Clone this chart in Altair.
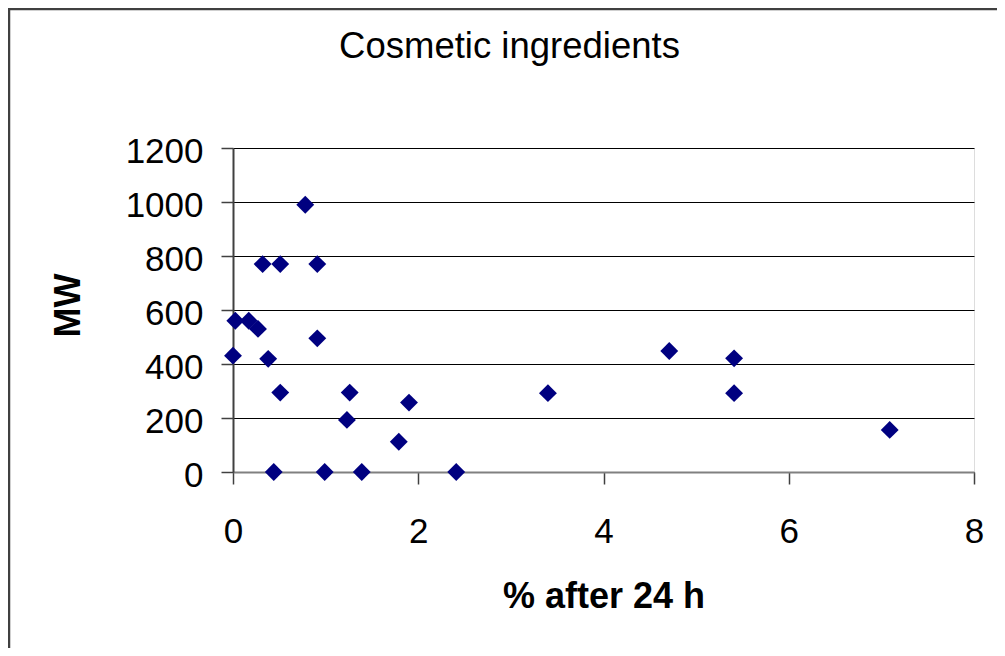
import altair as alt
import pandas as pd

pct_after_24h = [0.78, 0.32, 0.51, 0.91, 0.025, 0.17, 0.27, 0.91, 0.0, 0.38,
                 0.51, 1.26, 1.23, 1.90, 1.79, 0.44, 0.99, 1.39, 2.41,
                 3.40, 4.71, 5.41, 5.41, 7.09]
mw = [990, 770, 770, 770, 560, 560, 530, 495, 431, 419,
      294, 294, 193, 257, 112, 0, 0, 0, 0,
      292, 448, 421, 292, 156]

x_ticks = [0, 2, 4, 6, 8]
y_ticks = [0, 200, 400, 600, 800, 1000, 1200]

df = pd.DataFrame({"pct": pct_after_24h, "mw": mw})

FONT = "Liberation Sans"

points = alt.Chart(df).mark_point(
    shape="diamond", filled=True, color="#000080", size=320, opacity=1, clip=False
).encode(
    x=alt.X("pct:Q",
            scale=alt.Scale(domain=[0, 8], nice=False, zero=True),
            axis=alt.Axis(values=x_ticks, title="% after 24 h", grid=False, format="d",
                          tickSize=12, tickColor="#404040", tickWidth=1.5,
                          domainColor="#808080", domainWidth=2,
                          labelFont=FONT, labelFontSize=35, labelColor="black",
                          labelPadding=30, labelFlush=False, labelOverlap=False,
                          titleFont=FONT, titleFontSize=36, titleFontWeight="bold",
                          titleColor="black", titleX=370.5, titleY=135,
                          titleBaseline="alphabetic")),
    y=alt.Y("mw:Q",
            scale=alt.Scale(domain=[0, 1200], nice=False, zero=True),
            axis=alt.Axis(values=y_ticks, title="MW", grid=True, format="d",
                          gridColor="black", gridWidth=1.2,
                          tickSize=12, tickColor="#404040", tickWidth=1.5,
                          domainColor="#404040", domainWidth=2,
                          labelFont=FONT, labelFontSize=35, labelColor="black",
                          labelPadding=18, labelOffset=3, labelFlush=False,
                          labelOverlap=False,
                          titleFont=FONT, titleFontSize=36, titleFontWeight="bold",
                          titleColor="black", titleX=-154, titleY=157,
                          titleAngle=270, titleAlign="center",
                          titleBaseline="alphabetic")),
)

frame_df = pd.DataFrame({"a": [0]})
frame_left = alt.Chart(frame_df).mark_rule(color="#404040", strokeWidth=2.5, clip=False).encode(
    x=alt.value(-224), y=alt.value(-140), y2=alt.value(520))
frame_top = alt.Chart(frame_df).mark_rule(color="#404040", strokeWidth=2.5, clip=False).encode(
    x=alt.value(-225), x2=alt.value(780), y=alt.value(-139))

chart = alt.layer(frame_left, frame_top, points).properties(
    width=741, height=324,
    title=alt.TitleParams("Cosmetic ingredients", font=FONT, fontSize=36.5,
                          fontWeight="normal", color="black", anchor="middle",
                          dx=-94, dy=88, offset=0, baseline="alphabetic"),
    autosize=alt.AutoSizeParams(type="none"),
    padding={"left": 225, "top": 140, "right": 23, "bottom": 176},
).configure_view(stroke="#808080", strokeWidth=2).configure(background="white")

chart.save("out.html", embed_options={"renderer": "svg", "actions": False})
